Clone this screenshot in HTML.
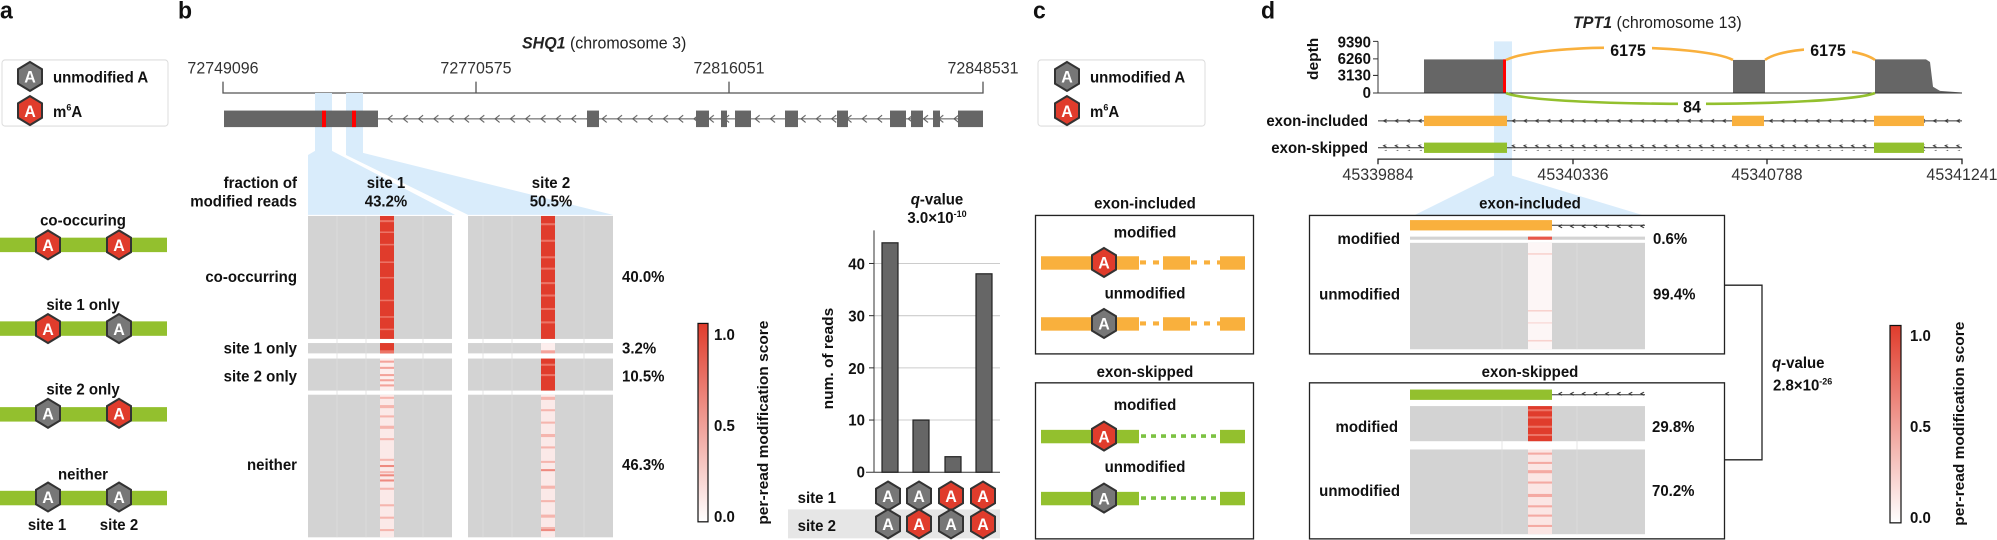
<!DOCTYPE html>
<html><head><meta charset="utf-8"><style>
html,body{margin:0;padding:0;background:#fff;}
svg{display:block;font-family:"Liberation Sans",sans-serif;}
.b{font-weight:bold;font-size:15px;fill:#111;}
.n{font-size:16px;fill:#333;}
.pl{font-weight:bold;font-size:23px;fill:#111;}
.hx{font-weight:bold;font-size:16px;fill:#fff;text-anchor:middle;}
</style></head><body>
<svg width="1997" height="540" viewBox="0 0 1997 540" xmlns="http://www.w3.org/2000/svg">
<defs>
<pattern id="chev" x="0" y="110" width="15.3" height="10" patternUnits="userSpaceOnUse"><path d="M10,1.5 L5.5,5 L10,8.5" fill="none" stroke="#555" stroke-width="1"/></pattern>
<pattern id="sm" x="0" y="0" width="11.7" height="6" patternUnits="userSpaceOnUse"><path d="M6,1.5 L3,3 L6,4.5" fill="none" stroke="#333" stroke-width="1"/></pattern>
<linearGradient id="cb" x1="0" y1="1" x2="0" y2="0"><stop offset="0" stop-color="#ffffff"/><stop offset="1" stop-color="#e03c2c"/></linearGradient>
<polygon id="hex" points="0,-14 12,-7 12,7 0,14 -12,7 -12,-7" stroke="#333" stroke-width="2"/>
</defs>
<g transform="scale(1,1.0333)">
<!-- panel labels -->
<text class="pl" x="0" y="18">a</text>
<text class="pl" x="178" y="18">b</text>
<text class="pl" x="1033" y="18">c</text>
<text class="pl" x="1261" y="18">d</text>

<!-- legend a -->
<rect x="2" y="58" width="166" height="64" rx="3" fill="#fff" stroke="#ddd"/>
<g transform="translate(30,74)"><use href="#hex" fill="#777"/><text class="hx" y="6">A</text></g>
<text class="b" x="53" y="80">unmodified A</text>
<g transform="translate(30,107)"><use href="#hex" fill="#e03c2c"/><text class="hx" y="6">A</text></g>
<text class="b" x="53" y="113">m<tspan font-size="9" dy="-6">6</tspan><tspan dy="6">A</tspan></text>

<!-- panel a rows -->
<text class="b" x="83" y="218" text-anchor="middle">co-occuring</text>
<rect x="0" y="230" width="167" height="14" fill="#93c02e"/>
<g transform="translate(48,237)"><use href="#hex" fill="#e03c2c"/><text class="hx" y="6">A</text></g>
<g transform="translate(119,237)"><use href="#hex" fill="#e03c2c"/><text class="hx" y="6">A</text></g>
<text class="b" x="83" y="300" text-anchor="middle">site 1 only</text>
<rect x="0" y="311" width="167" height="14" fill="#93c02e"/>
<g transform="translate(48,318)"><use href="#hex" fill="#e03c2c"/><text class="hx" y="6">A</text></g>
<g transform="translate(119,318)"><use href="#hex" fill="#777"/><text class="hx" y="6">A</text></g>
<text class="b" x="83" y="382" text-anchor="middle">site 2 only</text>
<rect x="0" y="394" width="167" height="14" fill="#93c02e"/>
<g transform="translate(48,400)"><use href="#hex" fill="#777"/><text class="hx" y="6">A</text></g>
<g transform="translate(119,400)"><use href="#hex" fill="#e03c2c"/><text class="hx" y="6">A</text></g>
<text class="b" x="83" y="464" text-anchor="middle">neither</text>
<rect x="0" y="475" width="167" height="14" fill="#93c02e"/>
<g transform="translate(48,481)"><use href="#hex" fill="#777"/><text class="hx" y="6">A</text></g>
<g transform="translate(119,481)"><use href="#hex" fill="#777"/><text class="hx" y="6">A</text></g>
<text class="b" x="47" y="513" text-anchor="middle">site 1</text>
<text class="b" x="119" y="513" text-anchor="middle">site 2</text>

<!-- panel b: gene -->
<text x="522" y="47" style="font-size:16px;fill:#222"><tspan font-weight="bold" font-style="italic">SHQ1</tspan> (chromosome 3)</text>
<text class="n" x="223" y="71" text-anchor="middle">72749096</text>
<text class="n" x="476" y="71" text-anchor="middle">72770575</text>
<text class="n" x="729" y="71" text-anchor="middle">72816051</text>
<text class="n" x="983" y="71" text-anchor="middle">72848531</text>
<path d="M223,79 V90 H983 V79 M476,90 V79 M729,90 V79" fill="none" stroke="#555" stroke-width="1.3"/>
<!-- highlight -->
<polygon points="315,90 332,90 332,146 455,208 308,208 308,150 315,146" fill="#d9ecfb"/>
<polygon points="346,90 363,90 363,148 613,208 468,208 346,150" fill="#d9ecfb"/>
<line x1="224" y1="115" x2="983" y2="115" stroke="#555" stroke-width="1"/>
<rect x="378" y="110" width="605" height="10" fill="url(#chev)"/>
<g fill="#666">
<rect x="224" y="107" width="154" height="16"/>
<rect x="587" y="107" width="12" height="16"/>
<rect x="696" y="107" width="13" height="16"/>
<rect x="721" y="107" width="6" height="16"/>
<rect x="735" y="107" width="16" height="16"/>
<rect x="785" y="107" width="13" height="16"/>
<rect x="837" y="107" width="11" height="16"/>
<rect x="890" y="107" width="16" height="16"/>
<rect x="911" y="107" width="12" height="16"/>
<rect x="933" y="107" width="7" height="16"/>
<rect x="958" y="107" width="25" height="16"/>
</g>
<rect x="322" y="107" width="4" height="16" fill="#f00"/>
<rect x="352" y="107" width="4" height="16" fill="#f00"/>

<!-- heatmap labels -->
<text class="b" x="297" y="182" text-anchor="end">fraction of</text>
<text class="b" x="297" y="200" text-anchor="end">modified reads</text>
<text class="b" x="386" y="182" text-anchor="middle">site 1</text>
<text class="b" x="386" y="200" text-anchor="middle">43.2%</text>
<text class="b" x="551" y="182" text-anchor="middle">site 2</text>
<text class="b" x="551" y="200" text-anchor="middle">50.5%</text>
<text class="b" x="297" y="273" text-anchor="end">co-occurring</text>
<text class="b" x="297" y="342" text-anchor="end">site 1 only</text>
<text class="b" x="297" y="369" text-anchor="end">site 2 only</text>
<text class="b" x="297" y="455" text-anchor="end">neither</text>
<text class="b" x="622" y="273">40.0%</text>
<text class="b" x="622" y="342">3.2%</text>
<text class="b" x="622" y="369">10.5%</text>
<text class="b" x="622" y="455">46.3%</text>

<!-- heatmap grey -->
<g fill="#d3d3d3">
<rect x="308" y="209" width="144" height="119"/><rect x="308" y="332" width="144" height="10"/><rect x="308" y="347" width="144" height="31"/><rect x="308" y="382" width="144" height="138"/>
<rect x="468" y="209" width="145" height="119"/><rect x="468" y="332" width="145" height="10"/><rect x="468" y="347" width="145" height="31"/><rect x="468" y="382" width="145" height="138"/>
</g>
<g stroke="#dedede" stroke-width="0.8">
<line x1="337" y1="209" x2="337" y2="520"/><line x1="366" y1="209" x2="366" y2="520"/><line x1="423" y1="209" x2="423" y2="520"/>
<line x1="483" y1="209" x2="483" y2="520"/><line x1="512" y1="209" x2="512" y2="520"/><line x1="584" y1="209" x2="584" y2="520"/>
</g>
<!-- site1 column -->
<rect x="380" y="209" width="14" height="119" fill="#e03c2c"/>
<g fill="#ec7466"><rect x="380" y="213" width="14" height="2"/><rect x="380" y="224" width="14" height="1.5"/><rect x="380" y="236" width="14" height="1.5"/><rect x="380" y="253" width="14" height="1.5"/><rect x="380" y="268" width="14" height="1.5"/><rect x="380" y="290" width="14" height="1.5"/><rect x="380" y="306" width="14" height="1.5"/><rect x="380" y="318" width="14" height="1.5"/></g>
<rect x="380" y="332" width="14" height="10" fill="#e03c2c"/><rect x="380" y="339" width="14" height="3" fill="#ec7466"/>
<rect x="380" y="347" width="14" height="31" fill="#fdeeed"/>
<g fill="#f3a39b"><rect x="380" y="349" width="14" height="2"/><rect x="380" y="355" width="14" height="2"/><rect x="380" y="362" width="14" height="2"/><rect x="380" y="367" width="14" height="2"/><rect x="380" y="372" width="14" height="2"/></g>
<rect x="380" y="382" width="14" height="138" fill="#fbe9e8"/>
<g fill="#f5b5ae"><rect x="380" y="384" width="14" height="2"/><rect x="380" y="392" width="14" height="3"/><rect x="380" y="402" width="14" height="2"/><rect x="380" y="412" width="14" height="3"/><rect x="380" y="424" width="14" height="2"/><rect x="380" y="444" width="14" height="2"/><rect x="380" y="456" width="14" height="2"/><rect x="380" y="472" width="14" height="2"/><rect x="380" y="488" width="14" height="2"/><rect x="380" y="500" width="14" height="2"/><rect x="380" y="512" width="14" height="2"/></g>
<g fill="#ee8a80"><rect x="380" y="450" width="14" height="2"/><rect x="380" y="459" width="14" height="2"/><rect x="380" y="464" width="14" height="2"/></g>
<!-- site2 column -->
<rect x="541" y="209" width="14" height="119" fill="#e03c2c"/>
<g fill="#ec7466"><rect x="541" y="216" width="14" height="2"/><rect x="541" y="232" width="14" height="2"/><rect x="541" y="248" width="14" height="2"/><rect x="541" y="259" width="14" height="2"/><rect x="541" y="273" width="14" height="2"/><rect x="541" y="285" width="14" height="2"/><rect x="541" y="298" width="14" height="2"/><rect x="541" y="311" width="14" height="2"/></g>
<rect x="541" y="332" width="14" height="10" fill="#fdeeed"/><rect x="541" y="339" width="14" height="3" fill="#f3a39b"/>
<rect x="541" y="347" width="14" height="31" fill="#e03c2c"/>
<g fill="#ec7466"><rect x="541" y="352" width="14" height="2"/><rect x="541" y="362" width="14" height="2"/></g>
<rect x="541" y="382" width="14" height="138" fill="#fbe9e8"/>
<g fill="#f5b5ae"><rect x="541" y="384" width="14" height="3"/><rect x="541" y="396" width="14" height="2"/><rect x="541" y="408" width="14" height="2"/><rect x="541" y="420" width="14" height="3"/><rect x="541" y="432" width="14" height="2"/><rect x="541" y="446" width="14" height="2"/><rect x="541" y="470" width="14" height="3"/><rect x="541" y="484" width="14" height="2"/><rect x="541" y="498" width="14" height="3"/><rect x="541" y="510" width="14" height="2"/></g>
<g fill="#ee8a80"><rect x="541" y="454" width="14" height="2"/><rect x="541" y="512" width="14" height="2"/></g>

<!-- colorbar b -->
<rect x="698" y="313" width="10" height="192" fill="url(#cb)" stroke="#111" stroke-width="1.2"/>
<text class="b" x="714" y="329">1.0</text>
<text class="b" x="714" y="417">0.5</text>
<text class="b" x="714" y="505">0.0</text>
<text class="b" transform="translate(768,409) rotate(-90)" text-anchor="middle">per-read modification score</text>

<!-- bar chart -->
<text class="b" x="937" y="198" text-anchor="middle"><tspan font-style="italic">q</tspan>-value</text>
<text class="b" x="937" y="216" text-anchor="middle">3.0×10<tspan font-size="9" dy="-6">-10</tspan></text>
<g stroke="#ccc" stroke-width="1"><line x1="874" y1="255" x2="1000" y2="255"/><line x1="874" y1="305.5" x2="1000" y2="305.5"/><line x1="874" y1="356" x2="1000" y2="356"/><line x1="874" y1="406.5" x2="1000" y2="406.5"/></g>
<line x1="874" y1="223" x2="874" y2="457" stroke="#333" stroke-width="1"/>
<line x1="866" y1="457" x2="1000" y2="457" stroke="#333" stroke-width="1"/>
<g stroke="#333" stroke-width="1"><line x1="869" y1="255" x2="874" y2="255"/><line x1="869" y1="305.5" x2="874" y2="305.5"/><line x1="869" y1="356" x2="874" y2="356"/><line x1="869" y1="406.5" x2="874" y2="406.5"/></g>
<g class="b" text-anchor="end"><text x="865" y="261">40</text><text x="865" y="311">30</text><text x="865" y="362">20</text><text x="865" y="412">10</text><text x="865" y="462">0</text></g>
<text class="b" transform="translate(833,347) rotate(-90)" text-anchor="middle">num. of reads</text>
<g fill="#666" stroke="#222" stroke-width="1.2">
<rect x="882" y="235" width="16" height="222"/>
<rect x="913" y="406.5" width="16" height="50.5"/>
<rect x="945" y="442" width="16" height="15"/>
<rect x="976" y="265" width="16" height="192"/>
</g>
<rect x="788" y="493" width="212" height="28" fill="#e6e6e6"/>
<text class="b" x="836" y="487" text-anchor="end">site 1</text>
<text class="b" x="836" y="514" text-anchor="end">site 2</text>
<g transform="translate(888,480)"><use href="#hex" fill="#777"/><text class="hx" y="6">A</text></g>
<g transform="translate(919,480)"><use href="#hex" fill="#777"/><text class="hx" y="6">A</text></g>
<g transform="translate(951,480)"><use href="#hex" fill="#e03c2c"/><text class="hx" y="6">A</text></g>
<g transform="translate(983,480)"><use href="#hex" fill="#e03c2c"/><text class="hx" y="6">A</text></g>
<g transform="translate(888,507)"><use href="#hex" fill="#777"/><text class="hx" y="6">A</text></g>
<g transform="translate(919,507)"><use href="#hex" fill="#e03c2c"/><text class="hx" y="6">A</text></g>
<g transform="translate(951,507)"><use href="#hex" fill="#777"/><text class="hx" y="6">A</text></g>
<g transform="translate(983,507)"><use href="#hex" fill="#e03c2c"/><text class="hx" y="6">A</text></g>

<!-- panel c -->
<rect x="1038" y="58" width="167" height="64" rx="3" fill="#fff" stroke="#ddd"/>
<g transform="translate(1067,74)"><use href="#hex" fill="#777"/><text class="hx" y="6">A</text></g>
<text class="b" x="1090" y="80">unmodified A</text>
<g transform="translate(1067,107)"><use href="#hex" fill="#e03c2c"/><text class="hx" y="6">A</text></g>
<text class="b" x="1090" y="113">m<tspan font-size="9" dy="-6">6</tspan><tspan dy="6">A</tspan></text>

<text class="b" x="1145" y="202" text-anchor="middle">exon-included</text>
<rect x="1035.5" y="208.5" width="218" height="134" fill="none" stroke="#222" stroke-width="1.3"/>
<text class="b" x="1145" y="230" text-anchor="middle">modified</text>
<g fill="#f9b03d"><rect x="1041" y="248" width="98" height="13"/><rect x="1163" y="248" width="27" height="13"/><rect x="1220" y="248" width="25" height="13"/></g>
<g stroke="#f9b03d" stroke-width="4" stroke-dasharray="6,7"><line x1="1140" y1="254" x2="1163" y2="254"/><line x1="1191" y1="254" x2="1220" y2="254"/></g>
<g transform="translate(1104,254)"><use href="#hex" fill="#e03c2c"/><text class="hx" y="6">A</text></g>
<text class="b" x="1145" y="289" text-anchor="middle">unmodified</text>
<g fill="#f9b03d"><rect x="1041" y="307" width="98" height="13"/><rect x="1163" y="307" width="27" height="13"/><rect x="1220" y="307" width="25" height="13"/></g>
<g stroke="#f9b03d" stroke-width="4" stroke-dasharray="6,7"><line x1="1140" y1="313" x2="1163" y2="313"/><line x1="1191" y1="313" x2="1220" y2="313"/></g>
<g transform="translate(1104,313)"><use href="#hex" fill="#777"/><text class="hx" y="6">A</text></g>

<text class="b" x="1145" y="365" text-anchor="middle">exon-skipped</text>
<rect x="1035.5" y="370.5" width="218" height="151" fill="none" stroke="#222" stroke-width="1.3"/>
<text class="b" x="1145" y="397" text-anchor="middle">modified</text>
<g fill="#93c02e"><rect x="1041" y="416" width="98" height="13"/><rect x="1220" y="416" width="25" height="13"/></g>
<line x1="1141" y1="422" x2="1220" y2="422" stroke="#7cc242" stroke-width="3.5" stroke-dasharray="5,5"/>
<g transform="translate(1104,422)"><use href="#hex" fill="#e03c2c"/><text class="hx" y="6">A</text></g>
<text class="b" x="1145" y="457" text-anchor="middle">unmodified</text>
<g fill="#93c02e"><rect x="1041" y="476" width="98" height="13"/><rect x="1220" y="476" width="25" height="13"/></g>
<line x1="1141" y1="482" x2="1220" y2="482" stroke="#7cc242" stroke-width="3.5" stroke-dasharray="5,5"/>
<g transform="translate(1104,482)"><use href="#hex" fill="#777"/><text class="hx" y="6">A</text></g>

<!-- panel d top -->
<text x="1573" y="27" style="font-size:16px;fill:#222"><tspan font-weight="bold" font-style="italic">TPT1</tspan> (chromosome 13)</text>
<polygon points="1494,40 1512,40 1512,170 1642,208 1415,208 1494,170" fill="#d9ecfb"/>
<text class="b" transform="translate(1318,57) rotate(-90)" text-anchor="middle">depth</text>
<g class="b" text-anchor="end" style="font-size:15px"><text x="1371" y="46">9390</text><text x="1371" y="62">6260</text><text x="1371" y="78">3130</text><text x="1371" y="95">0</text></g>
<path d="M1378,40 V90 M1373,40 H1378 M1373,57 H1378 M1373,73 H1378 M1373,90 H1378" stroke="#333" stroke-width="1" fill="none"/>
<g fill="#666">
<rect x="1424" y="57.5" width="81" height="32.5"/>
<rect x="1733" y="58" width="32" height="32"/>
<path d="M1875,57.5 H1926 L1930,60 L1933,84 L1940,88 L1962,89.5 V90 H1875 Z"/>
</g>
<rect x="1503" y="57.5" width="3" height="32.5" fill="#f00"/>
<line x1="1378" y1="90" x2="1962" y2="90" stroke="#333" stroke-width="1"/>
<path d="M1506,58 C1540,42 1700,42 1733,58" fill="none" stroke="#f9b03d" stroke-width="2.5"/>
<path d="M1765,58 C1785,44 1855,44 1875,58" fill="none" stroke="#f9b03d" stroke-width="2.5"/>
<path d="M1506,90 C1540,104 1840,104 1875,90" fill="none" stroke="#93c02e" stroke-width="2.5"/>
<rect x="1604" y="38" width="48" height="18" fill="#fff"/>
<text class="b" x="1628" y="54" text-anchor="middle" style="font-size:16px">6175</text>
<rect x="1804" y="38" width="48" height="18" fill="#fff"/>
<text class="b" x="1828" y="54" text-anchor="middle" style="font-size:16px">6175</text>
<rect x="1678" y="95" width="28" height="17" fill="#fff"/>
<text class="b" x="1692" y="109" text-anchor="middle" style="font-size:16px">84</text>

<text class="b" x="1368" y="122" text-anchor="end">exon-included</text>
<line x1="1378" y1="117" x2="1962" y2="117" stroke="#333" stroke-width="1"/>
<rect x="1378" y="114" width="584" height="6" fill="url(#sm)" transform="translate(0,0)"/>
<g fill="#f9b03d"><rect x="1424" y="112" width="83" height="10"/><rect x="1732" y="112" width="32" height="10"/><rect x="1874" y="112" width="50" height="10"/></g>
<text class="b" x="1368" y="148" text-anchor="end">exon-skipped</text>
<line x1="1378" y1="143" x2="1962" y2="143" stroke="#333" stroke-width="1"/>
<rect x="1378" y="140" width="584" height="6" fill="url(#sm)"/>
<g fill="#93c02e"><rect x="1424" y="138" width="83" height="10"/><rect x="1874" y="138" width="50" height="10"/></g>
<path d="M1378,159 V154 H1962 V159 M1573,154 V159 M1767,154 V159" stroke="#222" stroke-width="1.3" fill="none"/>
<g class="n" text-anchor="middle"><text x="1378" y="174">45339884</text><text x="1573" y="174">45340336</text><text x="1767" y="174">45340788</text><text x="1962" y="174">45341241</text></g>

<!-- panel d bottom -->
<text class="b" x="1530" y="202" text-anchor="middle">exon-included</text>
<rect x="1309.5" y="208.5" width="415" height="134" fill="#fff" stroke="#222" stroke-width="1.3"/>
<line x1="1552" y1="218" x2="1645" y2="218" stroke="#333" stroke-width="1"/>
<rect x="1552" y="215" width="93" height="6" fill="url(#sm)"/>
<rect x="1410" y="213" width="142" height="10" fill="#f9b03d"/>
<rect x="1410" y="229" width="235" height="3" fill="#d3d3d3"/>
<rect x="1528" y="229" width="24" height="3" fill="#e8574a"/>
<rect x="1410" y="235" width="235" height="103" fill="#d3d3d3"/>
<rect x="1528" y="235" width="24" height="103" fill="#fdf6f6"/>
<g fill="#f8d2ce"><rect x="1528" y="245" width="24" height="1.5"/><rect x="1528" y="300" width="24" height="1.5"/><rect x="1528" y="312" width="24" height="1"/><rect x="1528" y="329" width="24" height="1.5"/></g>
<g stroke="#dedede" stroke-width="0.8"><line x1="1502" y1="235" x2="1502" y2="338"/><line x1="1577" y1="235" x2="1577" y2="338"/></g>
<text class="b" x="1400" y="236" text-anchor="end">modified</text>
<text class="b" x="1400" y="290" text-anchor="end">unmodified</text>
<text class="b" x="1653" y="236">0.6%</text>
<text class="b" x="1653" y="290">99.4%</text>

<text class="b" x="1530" y="365" text-anchor="middle">exon-skipped</text>
<rect x="1309.5" y="370.5" width="415" height="151" fill="#fff" stroke="#222" stroke-width="1.3"/>
<line x1="1552" y1="382" x2="1645" y2="382" stroke="#333" stroke-width="1"/>
<rect x="1552" y="379" width="93" height="6" fill="url(#sm)"/>
<rect x="1410" y="377" width="142" height="10" fill="#93c02e"/>
<rect x="1410" y="393" width="235" height="34" fill="#d3d3d3"/>
<rect x="1528" y="393" width="24" height="34" fill="#e03c2c"/>
<g fill="#ec7466"><rect x="1528" y="396" width="24" height="2"/><rect x="1528" y="403" width="24" height="2"/><rect x="1528" y="412" width="24" height="2"/><rect x="1528" y="420" width="24" height="2"/></g>
<rect x="1410" y="435" width="235" height="82" fill="#d3d3d3"/>
<rect x="1528" y="435" width="24" height="82" fill="#fbe6e4"/>
<g fill="#f4aaa3"><rect x="1528" y="438" width="24" height="2"/><rect x="1528" y="447" width="24" height="2"/><rect x="1528" y="455" width="24" height="3"/><rect x="1528" y="466" width="24" height="2"/><rect x="1528" y="478" width="24" height="3"/><rect x="1528" y="489" width="24" height="2"/><rect x="1528" y="498" width="24" height="2"/><rect x="1528" y="508" width="24" height="2"/></g>
<g stroke="#dedede" stroke-width="0.8"><line x1="1502" y1="393" x2="1502" y2="517"/><line x1="1577" y1="393" x2="1577" y2="517"/></g>
<text class="b" x="1398" y="418" text-anchor="end">modified</text>
<text class="b" x="1400" y="480" text-anchor="end">unmodified</text>
<text class="b" x="1652" y="418">29.8%</text>
<text class="b" x="1652" y="480">70.2%</text>

<path d="M1725,276 H1762 V445 H1725" fill="none" stroke="#222" stroke-width="1.3"/>
<text class="b" x="1772" y="356"><tspan font-style="italic">q</tspan>-value</text>
<text class="b" x="1773" y="378">2.8×10<tspan font-size="9" dy="-6">-26</tspan></text>

<rect x="1890" y="315" width="11" height="191" fill="url(#cb)" stroke="#111" stroke-width="1.2"/>
<text class="b" x="1910" y="330">1.0</text>
<text class="b" x="1910" y="418">0.5</text>
<text class="b" x="1910" y="506">0.0</text>
<text class="b" transform="translate(1964,410) rotate(-90)" text-anchor="middle">per-read modification score</text>
</g>
</svg>
</body></html>
